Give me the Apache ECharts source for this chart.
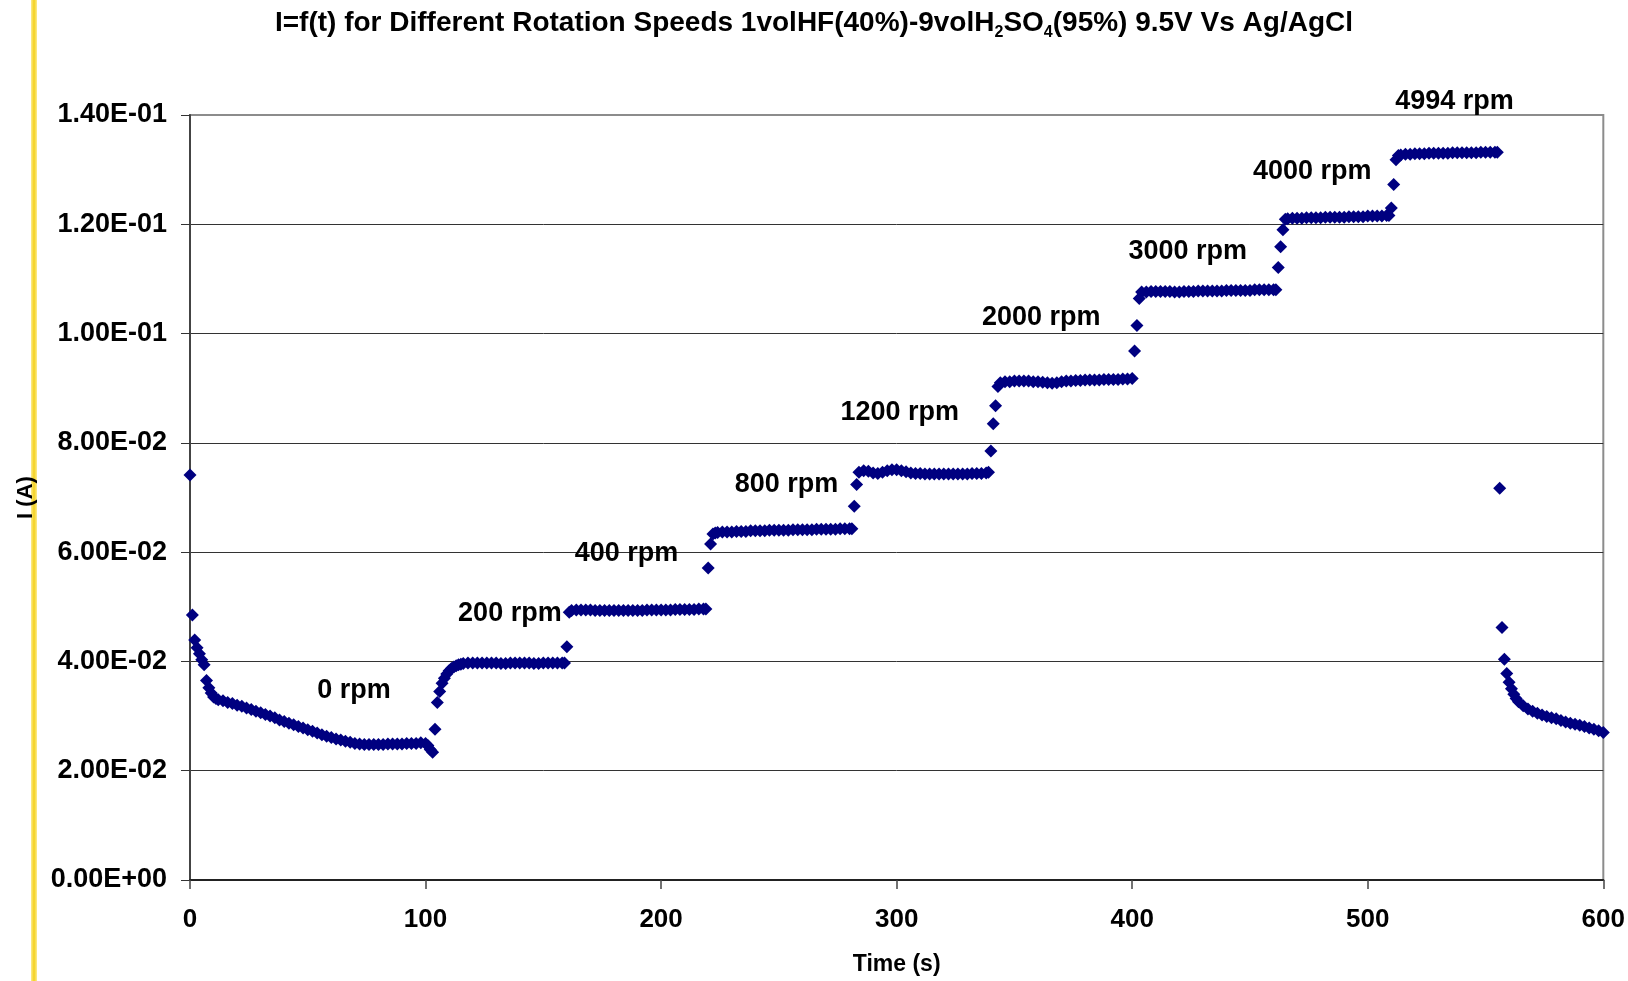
<!DOCTYPE html>
<html>
<head>
<meta charset="utf-8">
<script src="https://cdn.jsdelivr.net/npm/echarts@6/dist/echarts.min.js"></script>
<style>
  html, body { margin: 0; padding: 0; background: #fff; }
  #chart { width: 1628px; height: 981px; }
</style>
</head>
<body>
<div id="chart"></div>
<script>
// ---- data: [time (s), current (A)] ----
const startDecay = [[0,.0741],[1,.0485],[2,.0439],[3,.0425],[4,.0414],[5,.0403],[6,.0394],[7,.0365],[8,.0352],[9,.0342],[10,.0335],[11,.0332],[12,.0330]];
const rpm0 = [[14,.0328],[16,.0325],[18,.0323],[20,.0320],[22,.0318],[24,.0315],[26,.0312],[28,.0309],[30,.0306],[32,.0303],[34,.0300],[36,.0297],[38,.0293],[40,.0290],[42,.0287],[44,.0284],[46,.0281],[48,.0278],[50,.0275],[52,.0272],[54,.0269],[56,.0266],[58,.0263],[60,.0261],[62,.0258],[64,.0256],[66,.0254],[68,.0252],[70,.0250],[72,.0249],[74,.0248],[76,.0248],[78,.0248],[80,.0248],[82,.0248],[84,.0249],[86,.0249],[88,.0249],[90,.0249],[92,.0250],[94,.0250],[96,.0250],[98,.0251],[100,.0250],[101,.0246],[102,.0239],[103,.0234]];
const rpm200 = [[104,.0276],[105,.0325],[106,.0345],[107,.0360],[108,.0369],[109,.0377],[110,.0383],[111,.0387],[112,.0390],[113,.0392],[114,.0394],[115,.0395],[116,.0396],[118,.0397],[120,.0397],[122,.0397],[124,.0397],[126,.0397],[128,.0397],[130,.0397],[132,.0396],[134,.0396],[136,.0397],[138,.0397],[140,.0397],[142,.0397],[144,.0397],[146,.0396],[148,.0396],[150,.0397],[152,.0397],[154,.0397],[156,.0397],[158,.0397],[159,.0397],[160,.0427]];
const rpm400 = [[161,.0490],[162,.0493],[164,.0494],[166,.0494],[168,.0494],[170,.0494],[172,.0493],[174,.0493],[176,.0493],[178,.0493],[180,.0493],[182,.0493],[184,.0493],[186,.0493],[188,.0493],[190,.0493],[192,.0493],[194,.0494],[196,.0494],[198,.0494],[200,.0494],[202,.0494],[204,.0494],[206,.0495],[208,.0495],[210,.0495],[212,.0495],[214,.0495],[216,.0496],[218,.0496],[219,.0496],[220,.0571],[221,.0615]];
const rpm600 = [[222,.0633],[223,.0635],[224,.0636],[226,.0637],[228,.0637],[230,.0637],[232,.0638],[234,.0638],[236,.0638],[238,.0639],[240,.0639],[242,.0639],[244,.0639],[246,.0640],[248,.0640],[250,.0640],[252,.0640],[254,.0640],[256,.0641],[258,.0641],[260,.0641],[262,.0641],[264,.0641],[266,.0642],[268,.0642],[270,.0642],[272,.0642],[274,.0642],[276,.0643],[278,.0643],[280,.0643],[281,.0643],[282,.0684],[283,.0724]];
const rpm800 = [[284,.0746],[286,.0749],[288,.0748],[290,.0745],[292,.0744],[294,.0746],[296,.0749],[298,.0751],[300,.0751],[302,.0749],[304,.0747],[306,.0745],[308,.0744],[310,.0744],[312,.0743],[314,.0743],[316,.0743],[318,.0743],[320,.0743],[322,.0743],[324,.0743],[326,.0743],[328,.0743],[330,.0743],[332,.0744],[334,.0744],[336,.0744],[338,.0745],[339,.0746],[340,.0785],[341,.0835],[342,.0868]];
const rpm1200 = [[343,.0903],[344,.0910],[346,.0912],[348,.0912],[350,.0913],[352,.0913],[354,.0913],[356,.0913],[358,.0912],[360,.0912],[362,.0911],[364,.0910],[366,.0909],[368,.0910],[370,.0912],[372,.0913],[374,.0913],[376,.0914],[378,.0914],[380,.0915],[382,.0915],[384,.0915],[386,.0915],[388,.0916],[390,.0916],[392,.0916],[394,.0916],[396,.0917],[398,.0917],[400,.0918],[401,.0968],[402,.1015]];
const rpm2000 = [[403,.1064],[404,.1076],[406,.1076],[408,.1077],[410,.1077],[412,.1077],[414,.1077],[416,.1077],[418,.1076],[420,.1076],[422,.1077],[424,.1077],[426,.1077],[428,.1078],[430,.1078],[432,.1078],[434,.1078],[436,.1078],[438,.1078],[440,.1079],[442,.1079],[444,.1079],[446,.1079],[448,.1079],[450,.1079],[452,.1080],[454,.1080],[456,.1080],[458,.1080],[460,.1080],[461,.1080],[462,.1121],[463,.1159],[464,.1190]];
const rpm3000 = [[465,.1209],[466,.1210],[468,.1211],[470,.1211],[472,.1211],[474,.1212],[476,.1212],[478,.1212],[480,.1212],[482,.1213],[484,.1213],[486,.1213],[488,.1213],[490,.1213],[492,.1214],[494,.1214],[496,.1214],[498,.1214],[500,.1215],[502,.1215],[504,.1215],[506,.1215],[508,.1216],[509,.1216],[510,.1230],[511,.1273],[512,.1318]];
const rpm4994 = [[513,.1326],[514,.1327],[516,.1328],[518,.1328],[520,.1329],[522,.1329],[524,.1329],[526,.1330],[528,.1330],[530,.1330],[532,.1330],[534,.1330],[536,.1331],[538,.1331],[540,.1331],[542,.1331],[544,.1331],[546,.1331],[548,.1332],[550,.1332],[552,.1332],[554,.1332],[555,.1332]];
const endDecay = [[556,.0717],[557,.0462],[558,.0404],[559,.0378],[560,.0362],[561,.0350],[562,.0340],[563,.0332],[564,.0326],[566,.0319],[568,.0313],[570,.0309],[572,.0305],[574,.0302],[576,.0299],[578,.0297],[580,.0295],[582,.0292],[584,.0289],[586,.0287],[588,.0285],[590,.0283],[592,.0281],[594,.0278],[596,.0276],[598,.0273],[600,.0270]];

const rpmLabels = ['0 rpm','200 rpm','400 rpm','800 rpm','1200 rpm','2000 rpm','3000 rpm','4000 rpm','4994 rpm'];
const rpmLabelAt = [[69.6,.0346],[135.8,.0488],[185.3,.0597],[253.2,.0724],[301.3,.0855],[361.4,.1030],[423.6,.1151],[476.4,.1296],[536.8,.1424]];

const xTicks = [0,100,200,300,400,500,600];
const yTickLabels = ['0.00E+00','2.00E-02','4.00E-02','6.00E-02','8.00E-02','1.00E-01','1.20E-01','1.40E-01'];

const allPoints = [].concat(startDecay, rpm0, rpm200, rpm400, rpm600, rpm800, rpm1200, rpm2000, rpm3000, rpm4994, endDecay);

const FONT = "'Liberation Sans', Arial, sans-serif";
const chart = echarts.init(document.getElementById('chart'), null, { renderer: 'canvas' });

chart.setOption({
  backgroundColor: '#ffffff',
  animation: false,
  title: {
    text: 'I=f(t) for Different Rotation Speeds 1volHF(40%)-9volH{sub|2}SO{sub|4}(95%) 9.5V Vs Ag/AgCl',
    left: 'center',
    top: 5,
    padding: 0,
    textStyle: {
      fontFamily: FONT, fontSize: 28, fontWeight: 'bold', color: '#000', lineHeight: 36,
      rich: {
        sub: { fontFamily: FONT, fontSize: 16, fontWeight: 'bold', color: '#000', lineHeight: 16, verticalAlign: 'bottom' }
      }
    }
  },
  graphic: [
    { type: 'rect', left: 31, top: 0, shape: { width: 6, height: 981 }, style: { fill: '#FBE77A' }, z: -10 },
    { type: 'rect', left: 32.5, top: 0, shape: { width: 3, height: 981 }, style: { fill: '#F5D530' }, z: -9 }
  ],
  grid: {
    left: 190, right: 24, top: 115, bottom: 96,
    show: true, borderColor: '#8c8c8c', borderWidth: 2, backgroundColor: 'transparent'
  },
  xAxis: {
    type: 'value', min: 0, max: 600, interval: 100,
    name: 'Time (s)', nameLocation: 'middle', nameGap: 73,
    nameTextStyle: { fontFamily: FONT, fontSize: 23, fontWeight: 'bold', color: '#000' },
    axisLine: { show: true, onZero: false, lineStyle: { color: '#222', width: 2 } },
    axisTick: { show: true, length: 9, lineStyle: { color: '#444', width: 1.5 } },
    splitLine: { show: false },
    axisLabel: {
      margin: 27, fontFamily: FONT, fontSize: 26, fontWeight: 'bold', color: '#000',
      formatter: v => String(xTicks[Math.round(v / 100)])
    }
  },
  yAxis: {
    type: 'value', min: 0, max: 0.14, interval: 0.02,
    name: 'I (A)', nameLocation: 'middle', nameGap: 153, nameRotate: 90,
    nameTextStyle: { fontFamily: FONT, fontSize: 22, fontWeight: 'bold', color: '#000' },
    axisLine: { show: true, onZero: false, lineStyle: { color: '#444', width: 2 } },
    axisTick: { show: true, length: 9, lineStyle: { color: '#333', width: 1 } },
    splitLine: { show: true, lineStyle: { color: ['#333','#333','#333','#333','#333','#333','#333','#8c8c8c'], width: 1 } },
    axisLabel: {
      margin: 23, fontFamily: FONT, fontSize: 27, fontWeight: 'bold', color: '#000',
      formatter: v => yTickLabels[Math.round(v / 0.02)]
    }
  },
  series: [
    {
      type: 'scatter', data: allPoints, symbol: 'diamond', symbolSize: 13,
      itemStyle: { color: '#000080', opacity: 1 }, clip: false, silent: true, z: 3
    },
    {
      type: 'scatter', silent: true, clip: false, z: 5,
      symbol: 'circle', symbolSize: 1, itemStyle: { color: 'rgba(255,255,255,0)', opacity: 1 },
      data: rpmLabels.map((n, i) => ({ name: n, value: rpmLabelAt[i] })),
      label: {
        show: true, position: 'inside', formatter: '{b}', opacity: 1,
        fontFamily: FONT, fontSize: 27, fontWeight: 'bold', color: '#000'
      }
    }
  ]
});
</script>
</body>
</html>
